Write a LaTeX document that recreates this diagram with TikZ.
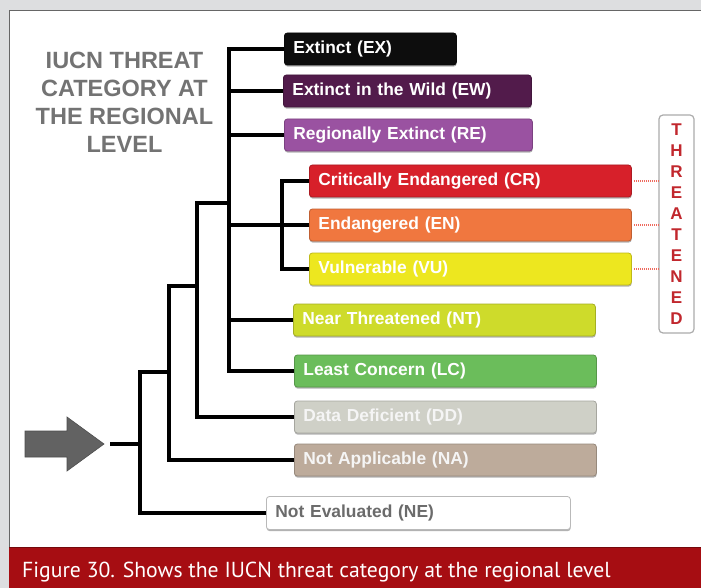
\documentclass[tikz,border=0pt]{standalone}
\usepackage{fontspec}
\setmainfont{Liberation Sans}
\newfontfamily\capfont{PT Sans}
\usetikzlibrary{shadows}
\definecolor{bgc}{HTML}{DDDEE0}
\definecolor{bandc}{HTML}{A60D12}
\definecolor{titlec}{HTML}{737373}
\definecolor{thrc}{HTML}{C1272D}
\definecolor{dotc}{HTML}{EE6A5E}
\definecolor{arrc}{HTML}{626262}
\definecolor{cEX}{HTML}{0D0D0D}
\definecolor{cEW}{HTML}{521B4B}
\definecolor{cRE}{HTML}{9A52A1}
\definecolor{cCR}{HTML}{D7202A}
\definecolor{cEN}{HTML}{F0773F}
\definecolor{cVU}{HTML}{EDE71F}
\definecolor{cNT}{HTML}{CEDB2B}
\definecolor{cLC}{HTML}{6BBD5B}
\definecolor{cDD}{HTML}{CFD0C7}
\definecolor{cNA}{HTML}{BDAB9B}
\definecolor{cNEt}{HTML}{6B6B6B}
\begin{document}
\begin{tikzpicture}[x=1pt,y=-1pt,
  tree/.style={line width=3.5pt, line join=miter, draw=black},
  cat/.style={fill=#1, draw=#1!80!black, line width=0.8pt, rounded corners=3pt,
    inner xsep=9pt, inner ysep=0pt, minimum height=32pt, anchor=west, align=left,
    font=\bfseries\fontsize{17.4}{20}\selectfont, text=white,
    drop shadow={shadow xshift=0.3pt, shadow yshift=-1.6pt, fill=black, opacity=0.3}},
  dotline/.style={draw=dotc, line width=1.3pt, dash pattern=on 1pt off 1pt},
]
\useasboundingbox (0,0) rectangle (701,588);
% background and panel
\fill[bgc] (0,0) rectangle (701,588);
\fill[white] (9,11) rectangle (701,547);
\draw[gray!80!black, line width=1pt] (9,547) -- (9,11) -- (701,11);
\fill[bandc] (9,547) rectangle (701,588);
\draw[bandc!70!black, line width=0.8pt] (9,547) -- (701,547);
\node[anchor=base west, text=white, inner sep=0, font=\capfont\fontsize{21.7}{24}\selectfont] (cap) at (22,577) {Figure 30. Shows the IUCN threat category at the regional level};

% title
\node[font=\bfseries\fontsize{23.5}{28}\selectfont, text=titlec, align=center, inner sep=0] (title) at (124.5,102) {IUCN THREAT\\CATEGORY AT\\THE REGIONAL\\LEVEL};

% category boxes
\node[cat=cEX, text width=154pt] (EX) at (284,49) {Extinct (EX)};
\node[cat=cEW, text width=230pt] (EW) at (283,91) {Extinct in the Wild (EW)};
\node[cat=cRE, text width=230pt] (RE) at (284,135) {Regionally Extinct (RE)};
\node[cat=cCR, text width=304pt] (CR) at (309,181) {Critically Endangered (CR)};
\node[cat=cEN, text width=304pt] (EN) at (309,225) {Endangered (EN)};
\node[cat=cVU, text width=304pt] (VU) at (309,269) {Vulnerable (VU)};
\node[cat=cNT, text width=284pt] (NT) at (293,320) {Near Threatened (NT)};
\node[cat=cLC, text width=284pt] (LC) at (294,371) {Least Concern (LC)};
\node[cat=cDD, text width=284pt, text=white!96!black] (DD) at (294,417) {Data Deficient (DD)};
\node[cat=cNA, text width=284pt, text=white!96!black] (NA) at (294,460) {Not Applicable (NA)};
\node[cat=white, draw=gray!55, text width=286pt, minimum height=33pt, text=cNEt] (NE) at (266,513) {Not Evaluated (NE)};

% threatened label
\node[draw=gray!65, line width=1.2pt, rounded corners=4pt, fill=white, minimum width=35pt, minimum height=218pt, inner sep=0, text=thrc, font=\bfseries\fontsize{17}{21}\selectfont, align=center] (TH) at (676.5,224) {T\\H\\R\\E\\A\\T\\E\\N\\E\\D};
\draw[dotline] ([xshift=2pt]CR.east) -- (CR.east -| TH.west);
\draw[dotline] ([xshift=2pt]EN.east) -- (EN.east -| TH.west);
\draw[dotline] ([xshift=2pt]VU.east) -- (VU.east -| TH.west);

% input arrow
\fill[arrc, draw=arrc!80!black, line width=0.6pt] (25,431) -- (67,431) -- (67,417) -- (104,444) -- (67,471) -- (67,457) -- (25,457) -- cycle;
\coordinate (stub) at (110,444);
\coordinate (r0) at (140,372);
\coordinate (r1) at (169,372);
\coordinate (c0) at (169,286);
\coordinate (c1) at (197,286);
\coordinate (d0) at (197,203);
\coordinate (d1) at (229,203);
\coordinate (e0) at (229,0);
\coordinate (f0) at (229,225);
\coordinate (f1) at (282,225);

% tree connectors
\draw[tree] (NE.west) -| (r0) -- (r1);
\draw[tree] (stub) -- (stub -| r0);
\draw[tree] (NA.west) -| (c0) -- (c1);
\draw[tree] (DD.west) -| (d0) -- (d1);
\draw[tree] (LC.west) -| (e0 |- EX.west) -- (EX.west);
\draw[tree] (EW.west) -- (EW.west -| e0);
\draw[tree] (RE.west) -- (RE.west -| e0);
\draw[tree] (NT.west) -- (NT.west -| e0);
\draw[tree] (f0) -- (f1);
\draw[tree] (VU.west) -| (f1 |- CR.west) -- (CR.west);
\draw[tree] (EN.west) -- (EN.west -| f1);
\end{tikzpicture}
\end{document}
